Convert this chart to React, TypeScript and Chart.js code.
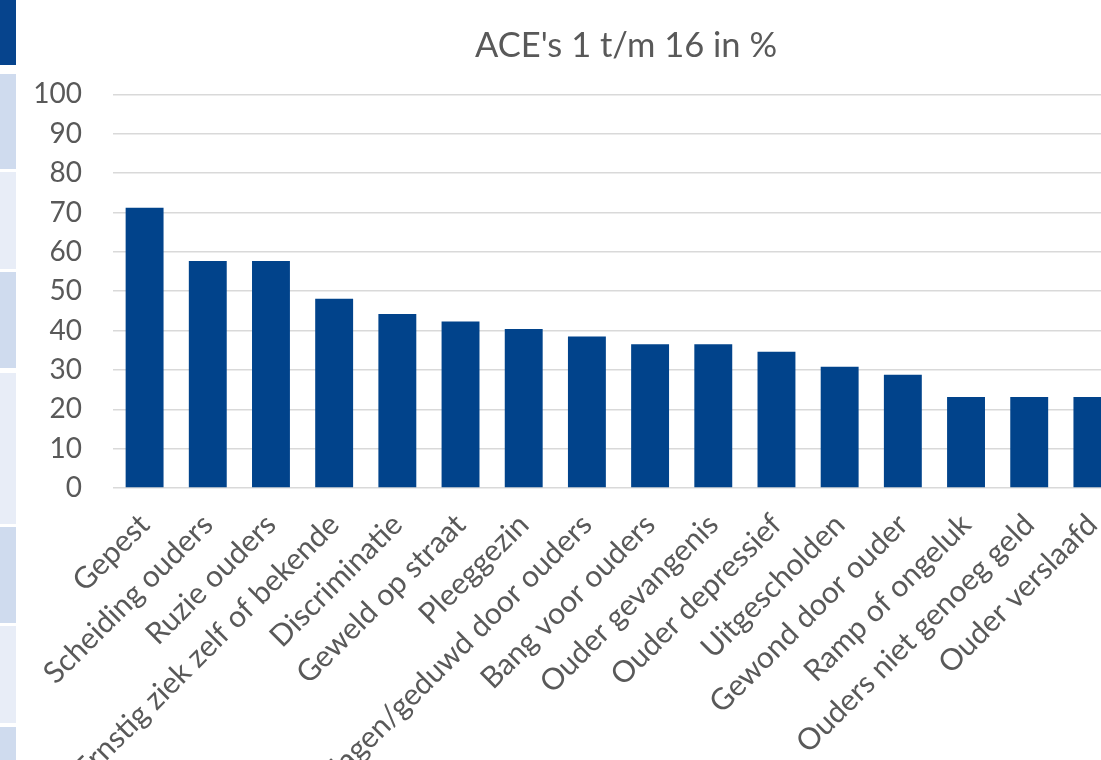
import React, { useEffect, useRef } from "react";
import { Chart, registerables } from "chart.js";

Chart.register(...registerables);

const categories: string[] = [
  "Gepest",
  "Scheiding ouders",
  "Ruzie ouders",
  "Ernstig ziek zelf of bekende",
  "Discriminatie",
  "Geweld op straat",
  "Pleeggezin",
  "Geslagen/geduwd door ouders",
  "Bang voor ouders",
  "Ouder gevangenis",
  "Ouder depressief",
  "Uitgescholden",
  "Gewond door ouder",
  "Ramp of ongeluk",
  "Ouders niet genoeg geld",
  "Ouder verslaafd",
];

const percentages: number[] = [
  71.2, 57.7, 57.7, 48.1, 44.2, 42.3, 40.4, 38.5, 36.5, 36.5, 34.6, 30.8, 28.8, 23.1, 23.1, 23.1,
];

const yTicks: number[] = [0, 10, 20, 30, 40, 50, 60, 70, 80, 90, 100];

const titleText = "ACE's 1 t/m 16 in %";

const BAR_COLOR = "#01438b";
const TEXT_COLOR = "#595959";
const GRID_COLOR = "#d9d9d9";
const FONT = "Lato";

const stripBands: { top: number; bottom: number; color: string }[] = [
  { top: 0, bottom: 65, color: "#06448d" },
  { top: 74, bottom: 169, color: "#cfdbee" },
  { top: 172, bottom: 269, color: "#e8edf7" },
  { top: 272, bottom: 368, color: "#cfdbee" },
  { top: 373, bottom: 524, color: "#e8edf7" },
  { top: 527, bottom: 623, color: "#cfdbee" },
  { top: 626, bottom: 723, color: "#e8edf7" },
  { top: 727, bottom: 760, color: "#cfdbee" },
];

export default function App() {
  const canvasRef = useRef<HTMLCanvasElement | null>(null);

  useEffect(() => {
    const canvas = canvasRef.current;
    if (!canvas) return;
    const chart = new Chart(canvas, {
      type: "bar",
      data: {
        labels: categories,
        datasets: [
          {
            label: titleText,
            data: percentages,
            backgroundColor: BAR_COLOR,
            borderWidth: 0,
            barPercentage: 0.6,
            categoryPercentage: 1,
            yAxisID: "y",
          },
        ],
      },
      options: {
        responsive: false,
        animation: false,
        devicePixelRatio: 1,
        layout: { padding: 0 },
        plugins: {
          legend: { display: false },
          tooltip: { enabled: false },
          title: {
            display: true,
            text: titleText,
            color: TEXT_COLOR,
            font: { family: FONT, size: 34.5, weight: "normal" },
            padding: { top: 25, bottom: 28 },
          },
        },
        scales: {
          x: {
            grid: { display: false, drawTicks: false },
            border: { display: false },
            ticks: {
              autoSkip: false,
              maxRotation: 45,
              minRotation: 45,
              color: TEXT_COLOR,
              font: { family: FONT, size: 30 },
              padding: 19,
            },
            afterFit: (scale: any) => {
              scale.height = 412;
            },
          },
          y: {
            position: "left",
            min: 0,
            max: 100,
            afterBuildTicks: (scale: any) => {
              scale.ticks = yTicks.map((v) => ({ value: v }));
            },
            grid: { color: GRID_COLOR, lineWidth: 1.5, drawTicks: false },
            border: { display: false },
            ticks: {
              color: TEXT_COLOR,
              font: { family: FONT, size: 28 },
              padding: 31,
            },
            afterFit: (scale: any) => {
              scale.width = 113;
            },
          },
          yR: {
            position: "right",
            display: true,
            grid: { display: false, drawTicks: false },
            border: { display: false },
            ticks: { display: false },
            afterFit: (scale: any) => {
              scale.width = 128;
            },
          },
        },
      },
    });
    return () => chart.destroy();
  }, []);

  return (
    <div
      style={{
        position: "fixed",
        left: 0,
        top: 0,
        width: 1101,
        height: 760,
        overflow: "hidden",
        background: "#ffffff",
      }}
    >
      <canvas
        ref={canvasRef}
        width={1252}
        height={900}
        style={{ position: "absolute", left: 0, top: 0, display: "block" }}
      />
      {stripBands.map((b, i) => (
        <div
          key={i}
          style={{
            position: "absolute",
            left: 0,
            top: b.top,
            width: 16,
            height: b.bottom - b.top,
            background: b.color,
          }}
        />
      ))}
    </div>
  );
}
